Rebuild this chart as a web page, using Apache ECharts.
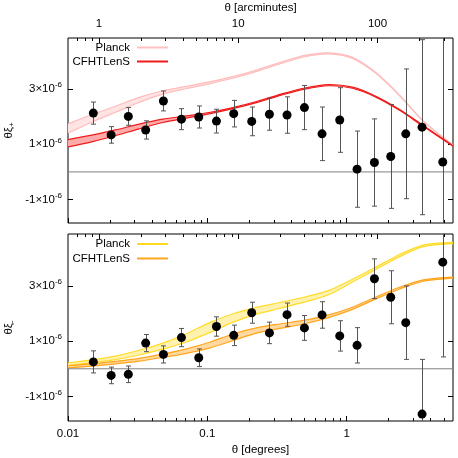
<!DOCTYPE html>
<html><head><meta charset="utf-8">
<script src="https://cdn.jsdelivr.net/npm/echarts@6/dist/echarts.min.js"></script>
<style>html,body{margin:0;padding:0;background:#fff}#c{width:458px;height:458px}</style>
</head><body><div id="c"></div>
<script>
// ---- data (y values in units of 1e-6) ----
const thetaDeg = [0.0152, 0.0204, 0.0271, 0.0361, 0.0484, 0.0652, 0.0868, 0.1163, 0.1547, 0.2083, 0.2791, 0.3734, 0.4977, 0.666, 0.892, 1.188, 1.583, 2.073, 2.657, 3.478, 4.897];
const xiPlus     = [2.13, 1.34, 2.01, 1.52, 2.57, 1.91, 1.99, 1.84, 2.11, 1.83, 2.09, 2.06, 2.33, 1.38, 1.88, 0.10, 0.34, 0.56, 1.38, 1.62, 0.36];
const xiPlusErr  = [0.40, 0.30, 0.32, 0.33, 0.36, 0.38, 0.40, 0.43, 0.48, 0.52, 0.58, 0.66, 0.80, 0.97, 1.17, 1.38, 1.58, 1.88, 2.35, 3.17, 5.0];
const xiMinus    = [0.25, -0.24, -0.20, 0.93, 0.52, 1.13, 0.40, 1.53, 1.21, 2.03, 1.30, 1.96, 1.48, 1.95, 1.19, 0.85, 3.26, 2.59, 1.67, -1.64, 3.86];
const xiMinusErr = [0.40, 0.30, 0.30, 0.31, 0.31, 0.33, 0.32, 0.35, 0.37, 0.38, 0.39, 0.42, 0.45, 0.48, 0.55, 0.64, 0.72, 0.96, 1.33, 1.98, 3.43];

const theoryTheta   = [0.01, 0.0148, 0.0219, 0.0324, 0.0479, 0.0708, 0.105, 0.155, 0.229, 0.339, 0.501, 0.741, 1.10, 1.62, 2.40, 3.55, 5.8];
const planckPlusHi  = [1.74, 2.07, 2.38, 2.70, 2.94, 3.10, 3.27, 3.46, 3.70, 3.98, 4.22, 4.31, 4.15, 3.60, 2.78, 1.85, 0.98];
const planckPlusLo  = [1.41, 1.80, 2.16, 2.52, 2.82, 3.02, 3.20, 3.40, 3.65, 3.93, 4.17, 4.27, 4.11, 3.57, 2.76, 1.83, 0.96];
const cfhtPlusHi    = [1.17, 1.33, 1.52, 1.73, 1.91, 2.03, 2.16, 2.34, 2.56, 2.82, 3.04, 3.16, 3.07, 2.74, 2.26, 1.68, 0.95];
const cfhtPlusLo    = [0.91, 1.09, 1.31, 1.56, 1.79, 1.95, 2.11, 2.30, 2.52, 2.78, 3.00, 3.12, 3.03, 2.71, 2.23, 1.65, 0.93];
const planckMinusHi = [0.21, 0.32, 0.46, 0.67, 0.93, 1.27, 1.68, 2.00, 2.23, 2.41, 2.60, 2.83, 3.24, 3.68, 4.14, 4.48, 4.58];
const planckMinusLo = [0.12, 0.22, 0.33, 0.50, 0.71, 0.97, 1.32, 1.70, 1.99, 2.20, 2.42, 2.68, 3.14, 3.60, 4.06, 4.42, 4.53];
const cfhtMinusHi   = [0.11, 0.18, 0.27, 0.38, 0.53, 0.72, 0.97, 1.27, 1.49, 1.63, 1.76, 1.95, 2.23, 2.60, 2.95, 3.22, 3.32];
const cfhtMinusLo   = [0.03, 0.10, 0.18, 0.28, 0.41, 0.56, 0.76, 1.03, 1.30, 1.47, 1.63, 1.85, 2.15, 2.53, 2.89, 3.17, 3.28];

const degMajor = [0.01, 0.1, 1];
const degMinor = [0.02,0.03,0.04,0.05,0.06,0.07,0.08,0.09,0.2,0.3,0.4,0.5,0.6,0.7,0.8,0.9,2,3,4,5];
const arcMajor = [1, 10, 100];
const arcMinor = [0.7,0.8,0.9,2,3,4,5,6,7,8,9,20,30,40,50,60,70,80,90,200,300];
const yTicks = [-1, 1, 3];

const DEG_MIN = 0.01, DEG_MAX = 5.8;       // degrees
const ARC_MIN = 0.6, ARC_MAX = 348;        // arcminutes
const FONT = 'Liberation Sans, Arial, sans-serif';

const chart = echarts.init(document.getElementById('c'), null, {renderer: 'canvas'});
const L = Math.log10;

const grids = [
  {left: 68, top: 38, width: 385, height: 185, show: true, borderColor: '#000', borderWidth: 1, outerBoundsMode: 'none'},
  {left: 68, top: 234, width: 385, height: 187, show: true, borderColor: '#000', borderWidth: 1, outerBoundsMode: 'none'}
];
const yRanges = [[-1.85, 4.85], [-1.89, 4.88]];

const xAxes = [], yAxes = [], series = [];
const fmtNum = v => String(+Math.pow(10, v).toPrecision(3));

function tickAxis(g, pos, min, max, vals, len, showLabel, name, nameGap) {
  const lv = vals.map(L);
  return {
    type: 'value', gridIndex: g, position: pos, min: L(min), max: L(max),
    axisLine: {show: false, onZero: false}, splitLine: {show: false},
    axisTick: {show: true, inside: true, length: len, customValues: lv, lineStyle: {color: '#000', width: 1}},
    axisLabel: {show: showLabel, customValues: lv, formatter: fmtNum, color: '#000', fontSize: 11.5, fontFamily: FONT, margin: pos === 'top' ? 8 : 7},
    name: name || '', nameLocation: 'middle', nameGap: nameGap || 0,
    nameTextStyle: {color: '#000', fontSize: 11.5, fontFamily: FONT}
  };
}

const bandDefs = [
  [{lo: planckPlusLo, hi: planckPlusHi, edge: '#ffbcbc', fill: '#ffe4e4'},
   {lo: cfhtPlusLo, hi: cfhtPlusHi, edge: '#ee1c1c', fill: '#ffaaaa'}],
  [{lo: planckMinusLo, hi: planckMinusHi, edge: '#ffdc28', fill: '#fff2b0'},
   {lo: cfhtMinusLo, hi: cfhtMinusHi, edge: '#ffa51e', fill: '#ffd9a0'}]
];
const obs = [[xiPlus, xiPlusErr], [xiMinus, xiMinusErr]];

for (let g = 0; g < 2; g++) {
  const dataX = xAxes.length;
  xAxes.push({type: 'log', logBase: 10, gridIndex: g, min: DEG_MIN, max: DEG_MAX, show: false, position: 'bottom', axisLine: {onZero: false}});
  xAxes.push(tickAxis(g, 'bottom', DEG_MIN, DEG_MAX, degMajor, 5, g === 1, g === 1 ? 'θ [degrees]' : '', 23));
  xAxes.push(tickAxis(g, 'bottom', DEG_MIN, DEG_MAX, degMinor, 3, false));
  xAxes.push(tickAxis(g, 'top', ARC_MIN, ARC_MAX, arcMajor, 5, g === 0, g === 0 ? 'θ [arcminutes]' : '', 24));
  xAxes.push(tickAxis(g, 'top', ARC_MIN, ARC_MAX, arcMinor, 3, false));

  const dataY = yAxes.length;
  const yCommon = {
    type: 'value', gridIndex: g, min: yRanges[g][0], max: yRanges[g][1],
    axisLine: {show: false, onZero: false}, splitLine: {show: false},
    axisTick: {show: true, inside: true, length: 5, customValues: yTicks, lineStyle: {color: '#000'}}
  };
  yAxes.push(Object.assign({}, yCommon, {
    position: 'left',
    axisLabel: {customValues: yTicks, margin: 6, color: '#000',
      formatter: v => '{m|' + v + '×10}{s|-6}',
      rich: {m: {fontSize: 11.5, fontFamily: FONT, color: '#000', lineHeight: 16},
             s: {fontSize: 8, fontFamily: FONT, color: '#000', verticalAlign: 'top', lineHeight: 16}}}
  }));
  yAxes.push(Object.assign({}, yCommon, {position: 'right', axisLabel: {show: false}}));

  // theory bands: filled region between lo and hi, with edge lines
  bandDefs[g].forEach((b, k) => {
    series.push({
      type: 'custom', xAxisIndex: dataX, yAxisIndex: dataY, silent: true, z: 2 + k, clip: true,
      data: [[theoryTheta[0], b.lo[0]]],
      renderItem: function (params, api) {
        const lo = theoryTheta.map((t, i) => api.coord([t, b.lo[i]]));
        const hi = theoryTheta.map((t, i) => api.coord([t, b.hi[i]]));
        const poly = hi.concat(lo.slice().reverse());
        return {type: 'group', children: [
          {type: 'polygon', shape: {points: poly, smooth: 0.3}, style: {fill: b.fill, stroke: null}},
          {type: 'polyline', shape: {points: lo, smooth: 0.3}, style: {stroke: b.edge, lineWidth: 1.2, fill: null}},
          {type: 'polyline', shape: {points: hi, smooth: 0.3}, style: {stroke: b.edge, lineWidth: 1.2, fill: null}}
        ]};
      }
    });
  });

  // zero line
  series.push({
    type: 'line', xAxisIndex: dataX, yAxisIndex: dataY, symbol: 'none', silent: true, z: 4,
    data: [[DEG_MIN, 0], [DEG_MAX, 0]], lineStyle: {color: '#808080', width: 1}
  });

  const [vals, errs] = obs[g];
  // error bars
  series.push({
    type: 'custom', xAxisIndex: dataX, yAxisIndex: dataY, z: 5, silent: true,
    data: thetaDeg.map((t, i) => [t, vals[i], errs[i]]),
    renderItem: function (params, api) {
      const cs = params.coordSys;
      const x = api.value(0), y = api.value(1), e = api.value(2);
      const top = api.coord([x, y + e]), bot = api.coord([x, y - e]);
      const yTop = Math.max(top[1], cs.y), yBot = Math.min(bot[1], cs.y + cs.height);
      const px = Math.round(top[0]) + 0.5;
      const st = {stroke: '#555', lineWidth: 1};
      const ch = [{type: 'line', shape: {x1: px, y1: yTop, x2: px, y2: yBot}, style: st}];
      if (top[1] >= cs.y) ch.push({type: 'line', shape: {x1: px - 2.5, y1: top[1], x2: px + 2.5, y2: top[1]}, style: st});
      if (bot[1] <= cs.y + cs.height) ch.push({type: 'line', shape: {x1: px - 2.5, y1: bot[1], x2: px + 2.5, y2: bot[1]}, style: st});
      return {type: 'group', children: ch};
    }
  });
  // points
  series.push({
    type: 'scatter', xAxisIndex: dataX, yAxisIndex: dataY, z: 6, silent: true,
    symbol: 'circle', symbolSize: 9, itemStyle: {color: '#000', opacity: 1},
    data: thetaDeg.map((t, i) => [t, vals[i]])
  });
}

// legends & y titles as graphic text
const legendRows = [
  {y: 47.5, text: 'Planck', color: '#ffc0c0'},
  {y: 61.5, text: 'CFHTLenS', color: '#ee1c1c'},
  {y: 244, text: 'Planck', color: '#ffd820'},
  {y: 258.5, text: 'CFHTLenS', color: '#ffa51e'}
];
const graphic = [];
legendRows.forEach(r => {
  graphic.push({type: 'text', x: 130, y: r.y, style: {text: r.text, fill: '#000', font: '11.5px ' + FONT, textAlign: 'right', textVerticalAlign: 'middle'}, z: 10});
  graphic.push({type: 'line', shape: {x1: 137, y1: r.y, x2: 168, y2: r.y}, style: {stroke: r.color, lineWidth: 2}, z: 10});
});
[[130.5, '+'], [327.5, '-']].forEach(([cy, sub]) => {
  graphic.push({
    type: 'text', x: 9, y: cy, rotation: Math.PI / 2, z: 10,
    style: {text: '{a|θξ}{b|' + sub + '}', textAlign: 'center', textVerticalAlign: 'middle',
      rich: {a: {fontSize: 11.5, fontFamily: FONT, fill: '#000', lineHeight: 14},
             b: {fontSize: 8, fontFamily: FONT, fill: '#000', padding: [6, 0, 0, 0]}}}
  });
});

chart.setOption({
  animation: false,
  textStyle: {fontFamily: FONT},
  grid: grids,
  xAxis: xAxes,
  yAxis: yAxes,
  series: series,
  graphic: graphic
});
</script>
</body></html>
